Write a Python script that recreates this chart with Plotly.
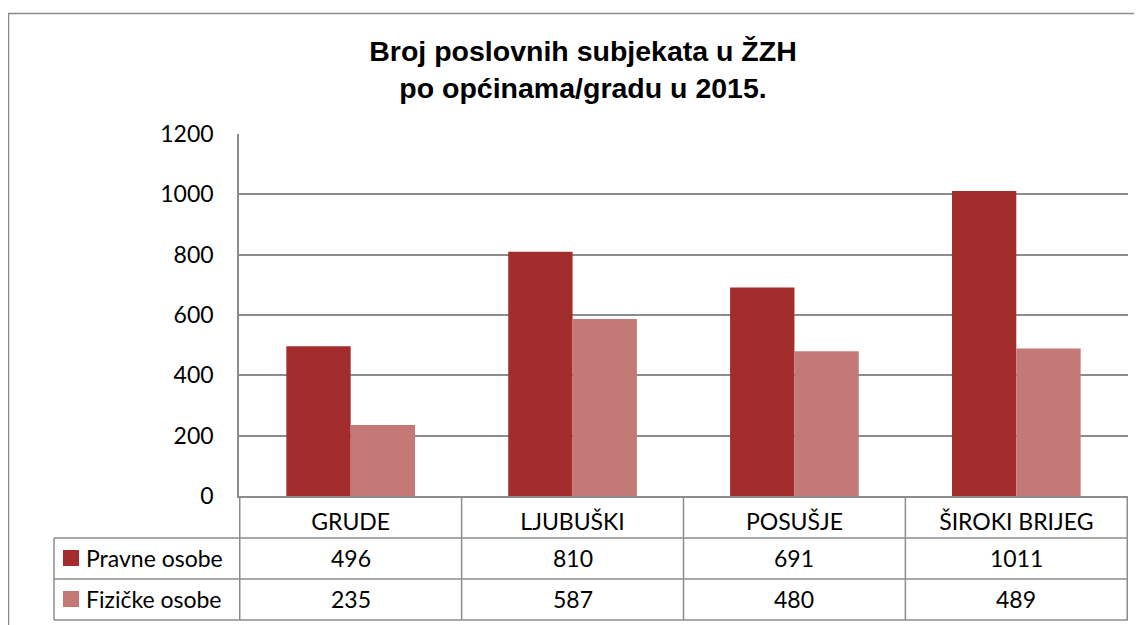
import plotly.graph_objects as go

categories = ["GRUDE", "LJUBUŠKI", "POSUŠJE", "ŠIROKI BRIJEG"]
pravne = [496, 810, 691, 1011]
fizicke = [235, 587, 480, 489]
series_names = ["Pravne osobe", "Fizičke osobe"]
y_ticks = [0, 200, 400, 600, 800, 1000, 1200]

colors = ["#A32D2D", "#C47977"]

# page offset from the default body margin of the html page
OFF = 8
W, H = 1142, 625
# target plot-area edges in page pixels
P_L, P_R, P_T, P_B = 239, 1128, 134, 496
ML = P_L - OFF
MT = P_T - OFF
MR = W - (P_R - OFF)
MB = H - (P_B - OFF)
PW = P_R - P_L
PH = P_B - P_T


def px_x(px):
    return (px - P_L) / PW


def px_y(py):
    return (P_B - py) / PH


FONT = "Lato, 'Open Sans', sans-serif"
FS = 23
GRID = "#8C8C8C"

fig = go.Figure()
for name, vals, col in zip(series_names, [pravne, fizicke], colors):
    fig.add_trace(go.Bar(x=categories, y=vals, name=name,
                         marker=dict(color=col, line=dict(width=0)),
                         showlegend=False))

shapes = []
annotations = []

# outer chart border
shapes.append(dict(type="rect", xref="paper", yref="paper",
                   x0=px_x(8.5), x1=px_x(1170), y0=px_y(660), y1=px_y(13.5),
                   line=dict(color="#8A8A8A", width=1.5), layer="below"))

# data table lines
for py in [538, 579, 620]:
    shapes.append(dict(type="line", xref="paper", yref="paper",
                       x0=px_x(54), x1=1, y0=px_y(py), y1=px_y(py),
                       line=dict(color=GRID, width=1.5)))
shapes.append(dict(type="line", xref="paper", yref="paper",
                   x0=px_x(54), x1=px_x(54), y0=px_y(538), y1=px_y(620),
                   line=dict(color=GRID, width=1.5)))
for i in range(len(categories) + 1):
    shapes.append(dict(type="line", xref="x", yref="paper",
                       x0=i - 0.5, x1=i - 0.5, y0=0, y1=px_y(620),
                       line=dict(color=GRID, width=1.5)))

# legend keys and values
row_centers = [558, 599]
for name, vals, col, yc in zip(series_names, [pravne, fizicke], colors, row_centers):
    shapes.append(dict(type="rect", xref="paper", yref="paper",
                       x0=px_x(63), x1=px_x(79), y0=px_y(yc + 8), y1=px_y(yc - 8),
                       fillcolor=col, line=dict(width=0)))
    annotations.append(dict(xref="paper", yref="paper", x=px_x(84), y=px_y(yc),
                            text=name, showarrow=False, xanchor="left", yanchor="middle",
                            font=dict(family=FONT, size=FS, color="#000")))
    for c, v in zip(categories, vals):
        annotations.append(dict(xref="x", yref="paper", x=c, y=px_y(yc),
                                text=str(v), showarrow=False, xanchor="center",
                                yanchor="middle",
                                font=dict(family=FONT, size=FS, color="#000")))

fig.update_layout(
    width=W, height=H,
    margin=dict(l=ML, r=MR, t=MT, b=MB),
    paper_bgcolor="white", plot_bgcolor="white",
    barmode="group", bargap=0.42, bargroupgap=0,
    title=dict(text="<b>Broj poslovnih subjekata u ŽZH<br>po općinama/gradu u 2015.</b>",
               x=(583 - OFF) / W, xanchor="center",
               y=1 - (61 - OFF) / H, yanchor="middle",
               font=dict(family="Liberation Sans, Arial, sans-serif", size=28.5, color="#000")),
    shapes=shapes,
    annotations=annotations,
    font=dict(family=FONT, size=FS, color="#000"),
)
fig.update_yaxes(range=[0, 1200], tickvals=y_ticks, showgrid=True, gridcolor=GRID,
                 gridwidth=1.5, showline=True, linecolor=GRID, linewidth=1.5,
                 zeroline=False, ticks="", ticklabelstandoff=19,
                 tickfont=dict(family=FONT, size=FS, color="#000"))
fig.update_xaxes(showline=True, linecolor=GRID, linewidth=1.5, ticks="",
                 ticklabelstandoff=5,
                 tickfont=dict(family=FONT, size=FS, color="#000"))

fig.write_html("out.html")
